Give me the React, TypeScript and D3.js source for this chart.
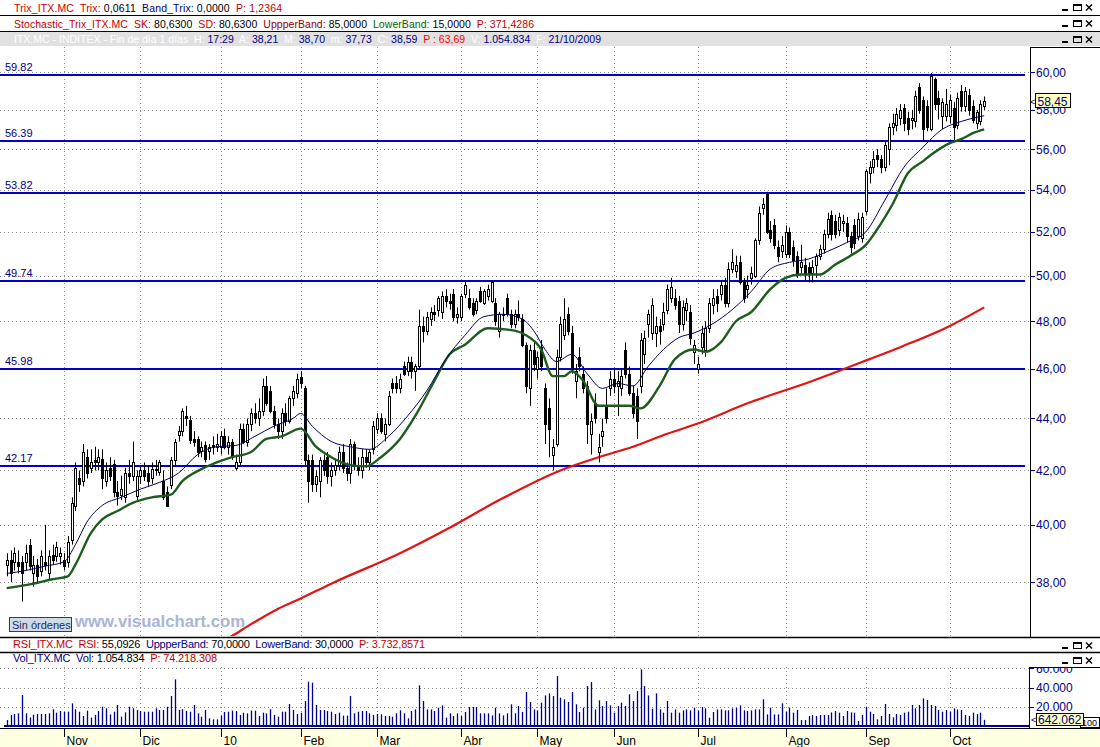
import React from 'react';
import * as d3 from 'd3';

// ---- calendar (trading sessions) ----
const firstSession = '2008-10-13';
const lastSession = '2009-10-14';
const holidays = ['2008-12-25', '2008-12-26', '2009-01-01', '2009-04-10', '2009-04-13', '2009-05-01'];
const monthLabels = ['Nov', 'Dic', '10', 'Feb', 'Mar', 'Abr', 'May', 'Jun', 'Jul', 'Ago', 'Sep', 'Oct'];

// ---- daily candles: [open, high, low, close] ----
const candles: [number, number, number, number][] = [
  // oct 08
  [38.6, 39.0, 38.2, 38.75], [38.75, 39.1, 38.0, 38.3], [38.7, 39.2, 38.4, 39.0], [38.7, 39.1, 38.3, 38.55],
  [38.7, 38.9, 37.35, 38.3], [38.7, 39.3, 38.4, 39.0], [39.3, 39.5, 38.4, 38.55], [38.3, 38.9, 37.85, 38.6],
  [38.6, 38.8, 38.0, 38.2], [38.4, 39.1, 38.2, 38.9], [38.7, 40.0, 38.4, 38.6], [38.3, 39.1, 38.1, 38.9],
  [38.95, 39.3, 38.6, 38.75], [38.9, 39.4, 38.7, 39.2], [38.9, 39.2, 38.6, 39.0],
  // nov
  [38.75, 39.0, 38.4, 38.55], [38.7, 39.6, 38.5, 39.4], [39.45, 41.0, 39.3, 40.8], [40.7, 42.3, 40.5, 42.1],
  [41.7, 42.0, 41.2, 41.5], [41.6, 43.0, 41.4, 42.7], [42.5, 42.8, 41.7, 41.9], [42.1, 42.8, 41.9, 42.3],
  [42.4, 42.9, 42.0, 42.3], [42.3, 42.8, 42.0, 42.5], [42.45, 42.8, 41.3, 41.7], [41.6, 42.3, 41.4, 42.0],
  [42.1, 42.5, 41.6, 41.8], [42.25, 42.4, 41.0, 41.2], [41.2, 41.6, 40.7, 41.05], [41.1, 41.8, 40.9, 41.3],
  [41.0, 42.1, 40.8, 41.9], [41.9, 42.4, 41.5, 41.8], [41.8, 43.1, 41.6, 42.3], [41.05, 42.0, 40.9, 41.8],
  // dic
  [41.8, 42.2, 41.5, 42.0], [42.0, 42.3, 41.6, 41.8], [41.9, 42.2, 41.4, 41.6], [41.7, 42.3, 41.5, 42.05],
  [42.05, 42.4, 41.8, 42.0], [41.95, 42.4, 41.8, 42.3], [41.6, 42.0, 40.9, 41.0], [41.2, 41.4, 40.65, 40.7],
  [41.45, 42.5, 41.3, 42.4], [42.4, 43.2, 42.2, 43.1], [43.35, 43.7, 43.1, 43.5], [43.5, 44.4, 43.3, 44.3],
  [44.1, 44.5, 43.7, 44.0], [43.95, 44.1, 43.0, 43.15], [43.2, 43.5, 42.9, 43.1], [43.2, 43.3, 42.5, 42.7],
  [42.75, 43.1, 42.5, 42.9], [42.95, 43.1, 42.3, 42.45], [42.75, 43.0, 42.4, 42.9], [42.95, 43.3, 42.6, 42.9],
  [42.9, 43.4, 42.7, 43.0],
  // ene 09
  [42.9, 43.5, 42.6, 43.3], [43.3, 43.6, 42.8, 42.9], [42.9, 43.3, 42.6, 43.1], [43.1, 43.2, 42.4, 42.5],
  [42.1, 42.6, 42.0, 42.3], [42.3, 43.8, 42.2, 43.6], [43.6, 43.8, 43.0, 43.1], [43.1, 44.0, 42.9, 43.8],
  [43.8, 44.4, 43.5, 44.2], [44.2, 44.6, 43.8, 44.0], [44.0, 44.8, 43.7, 44.3], [44.3, 45.6, 44.1, 45.3],
  [45.3, 45.7, 44.5, 44.6], [45.1, 45.3, 44.2, 44.3], [44.3, 44.5, 43.6, 43.8], [43.8, 44.0, 43.2, 43.5],
  [43.5, 44.4, 43.2, 44.2], [44.2, 44.6, 43.7, 43.9], [43.9, 44.9, 43.8, 44.8], [44.8, 45.3, 44.5, 45.1],
  [45.0, 45.8, 44.8, 45.6],
  // feb
  [45.65, 45.9, 45.2, 45.4], [45.2, 45.3, 42.2, 42.4], [42.4, 42.6, 40.8, 41.6], [42.4, 42.6, 41.2, 41.5],
  [41.5, 42.0, 41.2, 41.8], [41.6, 42.5, 41.0, 42.4], [42.4, 42.6, 41.8, 42.0], [42.5, 42.7, 41.5, 41.8],
  [41.8, 42.3, 41.4, 42.0], [42.0, 42.4, 41.8, 42.2], [42.2, 42.9, 42.0, 42.7], [42.7, 43.0, 41.9, 42.1],
  [42.1, 42.3, 41.6, 41.9], [41.9, 43.2, 41.5, 43.0], [43.0, 43.1, 42.0, 42.2], [42.2, 42.5, 41.8, 42.0],
  [42.0, 42.8, 41.7, 42.5], [42.5, 42.8, 42.1, 42.3], [42.3, 42.8, 42.0, 42.7], [42.8, 43.9, 42.6, 43.7],
  // mar
  [43.6, 44.2, 43.4, 44.0], [44.0, 44.2, 43.4, 43.5], [43.4, 44.0, 43.1, 43.8], [43.8, 45.1, 43.7, 44.9],
  [45.4, 45.6, 45.0, 45.2], [45.4, 45.7, 45.0, 45.2], [45.2, 45.8, 45.0, 45.6], [46.1, 46.3, 45.7, 45.8],
  [45.9, 46.5, 45.7, 46.3], [46.3, 46.5, 45.6, 45.9], [45.9, 46.2, 45.1, 46.1], [46.1, 48.5, 46.0, 47.8],
  [47.8, 48.2, 47.1, 47.6], [47.6, 48.4, 47.4, 48.2], [48.1, 48.6, 47.8, 48.4], [48.4, 48.7, 48.0, 48.3],
  [48.5, 49.1, 48.2, 49.0], [48.4, 49.3, 48.1, 49.1], [49.1, 49.4, 48.6, 48.9], [48.9, 49.2, 48.5, 48.8],
  [49.2, 49.4, 48.0, 48.2], [48.2, 48.6, 47.9, 48.3],
  // abr
  [48.2, 49.2, 48.0, 49.1], [49.2, 49.8, 49.0, 49.6], [49.0, 49.4, 48.5, 48.6], [48.8, 49.0, 48.2, 48.3],
  [48.5, 49.0, 48.3, 48.9], [49.3, 49.5, 48.8, 48.9], [48.8, 49.4, 48.7, 49.3], [49.1, 49.6, 48.9, 49.4],
  [48.9, 49.8, 48.8, 49.7], [48.8, 49.0, 47.8, 48.0], [47.6, 48.4, 47.3, 48.3], [48.3, 48.6, 48.0, 48.3],
  [49.0, 49.2, 48.2, 48.3], [48.3, 48.5, 47.7, 47.9], [47.9, 48.5, 47.7, 48.3], [48.3, 48.9, 48.0, 48.2],
  [48.1, 48.3, 46.9, 47.0], [47.0, 47.1, 45.0, 45.3], [45.2, 47.0, 44.5, 46.8], [46.8, 47.1, 45.9, 46.2],
  // may
  [46.0, 46.7, 45.6, 46.5], [46.9, 47.2, 45.9, 46.1], [45.2, 45.4, 43.0, 43.8], [44.4, 44.8, 42.5, 43.6],
  [42.6, 43.2, 42.0, 42.9], [43.0, 46.8, 42.9, 46.5], [46.5, 48.2, 46.3, 47.9], [47.4, 49.0, 47.2, 48.1],
  [48.3, 48.6, 47.4, 47.6], [47.5, 47.8, 45.8, 46.0], [45.5, 46.2, 44.8, 45.9], [46.5, 46.9, 45.9, 46.1],
  [45.8, 46.1, 45.0, 45.2], [45.3, 45.5, 43.0, 43.8], [43.4, 44.2, 42.6, 43.9], [44.6, 45.0, 43.8, 44.0],
  [42.7, 43.4, 42.3, 42.9], [43.3, 44.0, 42.9, 43.5], [44.5, 45.2, 43.8, 44.0], [45.2, 45.9, 44.9, 45.6],
  // jun
  [45.6, 46.0, 45.0, 45.3], [45.3, 45.9, 44.1, 45.5], [45.2, 46.0, 44.9, 45.7], [46.8, 47.1, 45.6, 45.8],
  [45.8, 46.1, 44.9, 45.0], [45.0, 45.3, 44.0, 44.2], [44.9, 45.2, 43.2, 43.9], [45.3, 47.5, 45.0, 47.2],
  [46.6, 47.6, 46.2, 47.3], [47.9, 48.5, 47.3, 48.3], [47.5, 49.0, 47.2, 48.7], [47.5, 48.2, 46.9, 47.8],
  [47.8, 48.1, 47.0, 47.6], [47.9, 48.8, 47.6, 48.4], [48.5, 49.6, 48.3, 49.4], [49.0, 49.9, 48.8, 49.5],
  [49.0, 49.4, 48.5, 48.7], [48.9, 49.1, 47.5, 47.9], [47.9, 48.9, 47.6, 48.6], [48.5, 49.0, 48.0, 48.8],
  [48.4, 48.7, 47.0, 47.3], [46.7, 47.2, 46.2, 47.0],
  // jul
  [46.0, 46.5, 45.8, 46.2], [46.9, 47.8, 46.6, 47.5], [46.8, 48.0, 46.5, 47.7], [47.7, 49.0, 47.5, 48.8],
  [48.7, 49.4, 48.3, 49.0], [49.1, 49.4, 48.4, 48.8], [49.2, 49.8, 48.9, 49.6], [49.6, 49.9, 48.6, 48.8],
  [48.8, 50.6, 48.6, 50.3], [50.3, 51.2, 50.1, 50.6], [50.2, 50.9, 49.9, 50.5], [50.6, 50.9, 49.6, 49.7],
  [49.7, 49.9, 48.8, 49.0], [49.4, 50.0, 49.0, 49.6], [49.9, 50.4, 49.6, 50.1], [50.0, 51.7, 49.9, 51.6],
  [51.6, 53.2, 51.4, 52.9], [53.1, 53.6, 52.8, 53.3], [53.8, 53.9, 51.9, 52.0], [52.1, 52.5, 51.5, 51.7],
  [52.3, 52.6, 51.2, 51.4], [51.3, 51.6, 50.6, 50.9], [51.1, 51.8, 50.8, 51.4],
  // ago
  [51.0, 52.3, 50.8, 52.0], [52.0, 52.2, 50.8, 51.0], [51.3, 51.6, 50.4, 50.7], [50.9, 51.1, 49.9, 50.1],
  [50.4, 51.4, 50.1, 50.6], [50.5, 50.8, 49.8, 50.1], [50.4, 50.6, 49.7, 50.1], [50.1, 50.7, 49.7, 50.4],
  [50.5, 51.0, 49.9, 50.9], [50.9, 51.4, 50.7, 51.2], [51.2, 52.1, 51.0, 51.9], [51.9, 52.9, 51.7, 52.6],
  [52.8, 53.0, 51.6, 51.9], [52.5, 52.8, 51.7, 51.9], [52.1, 52.9, 51.8, 52.7], [52.4, 52.8, 52.0, 52.5],
  [52.4, 52.7, 51.5, 51.8], [51.8, 52.0, 51.0, 51.3], [52.3, 52.6, 51.2, 51.5], [51.8, 52.9, 51.6, 52.6],
  [51.7, 52.9, 51.5, 52.7],
  // sep
  [53.0, 55.0, 52.8, 54.9], [54.8, 55.4, 54.3, 55.1], [55.1, 55.9, 54.8, 55.5], [55.7, 56.0, 55.1, 55.5],
  [55.5, 55.7, 54.8, 55.1], [55.1, 56.4, 54.9, 56.2], [56.0, 57.3, 55.2, 57.1], [57.1, 57.8, 56.7, 57.3],
  [57.2, 58.1, 56.9, 57.8], [57.6, 58.3, 57.2, 58.0], [58.1, 58.3, 56.9, 57.3], [57.6, 57.9, 56.7, 57.0],
  [57.5, 58.0, 57.0, 57.6], [57.4, 59.0, 57.1, 58.7], [59.2, 59.4, 57.8, 58.0], [58.5, 58.7, 56.4, 57.0],
  [58.2, 58.5, 56.9, 57.1], [57.0, 59.95, 56.9, 59.8], [59.6, 59.7, 58.0, 58.3], [58.6, 59.0, 57.5, 58.3],
  [57.7, 58.6, 57.0, 58.4], [57.7, 59.1, 57.4, 58.3],
  // oct 09
  [57.7, 58.8, 57.3, 58.5], [58.1, 58.4, 56.4, 57.1], [57.2, 58.9, 57.0, 58.6], [59.0, 59.3, 57.9, 58.2],
  [58.2, 59.2, 57.9, 59.0], [58.8, 59.1, 57.7, 58.0], [58.2, 58.5, 57.3, 57.5], [57.3, 58.0, 57.0, 57.9],
  [57.4, 58.5, 57.2, 58.3], [58.2, 58.7, 58.0, 58.45],
];

// ---- volume per session (axis units, thousands) ----
const volumes = [
  6.2, 11.5, 12.5, 13.2, 32.3, 13.2, 9.0, 11.8, 12.5, 12.5,
  12.5, 13.2, 17.4, 13.9, 15.6, 14.6, 14.9, 23.6, 17.4, 14.9,
  10.4, 16.0, 8.7, 11.5, 15.6, 20.1, 18.4, 12.1, 14.9, 21.9,
  9.7, 14.2, 20.1, 18.4, 16.7, 15.6, 14.9, 14.9, 14.9, 18.4,
  16.7, 16.7, 20.1, 31.2, 48.6, 16.7, 17.4, 15.6, 14.9, 21.9,
  13.2, 9.7, 16.7, 8.0, 6.9, 6.9, 10.8, 14.6, 14.9, 16.0,
  15.6, 11.5, 13.9, 13.2, 16.0, 16.0, 10.4, 13.9, 13.2, 17.4,
  11.5, 9.7, 14.9, 14.9, 22.9, 16.7, 12.5, 13.9, 26.0, 46.2,
  45.1, 21.9, 16.7, 16.7, 15.6, 14.9, 12.5, 13.9, 10.8, 10.8,
  31.2, 13.2, 14.9, 15.6, 15.6, 13.2, 11.5, 12.5,
  12.1, 10.4, 10.4, 9.7, 13.2, 16.3, 13.2, 8.0, 15.6, 17.3,
  42.3, 26.0, 17.3, 17.3, 15.6, 19.1, 21.5, 8.7, 13.2, 10.4,
  13.2, 10.4, 14.6, 19.8, 19.8, 19.8, 13.2, 13.2, 13.2, 11.1,
  19.1, 13.2, 11.1, 13.2, 22.6, 13.2, 20.8, 14.6, 35.4, 25.0,
  17.3, 16.3,
  24.3, 31.9, 34.0, 31.2, 52.0, 29.5, 27.8, 25.0, 35.4, 22.6,
  14.6, 19.1, 41.6, 45.8, 17.3, 26.7, 20.8, 26.0, 21.5, 13.9,
  20.8, 24.3, 20.8, 33.0, 26.0, 36.4, 59.0, 41.6, 31.9, 18.0,
  34.0, 17.3, 13.9, 26.0, 13.9, 17.3, 13.9, 16.3, 17.3, 16.3,
  19.1, 16.3, 19.8, 18.4, 8.7, 14.6, 17.3, 17.3, 16.3, 16.3,
  18.4, 19.1, 21.5, 16.3, 15.6, 16.3, 17.3, 17.3, 27.8, 12.1,
  19.1, 12.1, 12.1,
  23.6, 14.9, 19.1, 13.9, 16.7, 6.2, 6.2, 10.4, 11.5, 10.4,
  11.5, 11.5, 11.5, 14.2, 15.6, 13.9, 10.4, 15.6, 14.2, 13.9,
  5.2, 11.5, 20.1, 14.9, 12.5, 6.9, 10.4, 22.9, 12.5, 9.0,
  12.5, 11.5, 13.9, 14.9, 21.9, 18.4, 21.9, 28.8, 27.1, 21.9,
  20.8,
  16.7, 14.9, 16.7, 14.9, 18.4, 17.3, 16.7, 11.5, 10.4, 13.9, 12.5, 13.9, 6.4,
];

// ---- averages: [session index, value] ----
const fastMa: [number, number][] = [
  [0, 38.3], [5, 38.4], [10, 38.55], [15, 38.7], [18, 39.3], [21, 40.1], [25, 40.7], [30, 41.0], [35, 41.3],
  [40, 41.55], [45, 41.9], [50, 42.6], [55, 42.9], [60, 42.95], [65, 43.3], [70, 43.7], [75, 44.0], [77, 44.2],
  [80, 43.7], [85, 43.1], [90, 42.9], [95, 42.8], [100, 43.3], [105, 44.1], [110, 45.1], [115, 46.4], [120, 47.4],
  [125, 48.2], [130, 48.3], [135, 48.1], [138, 47.6], [141, 46.8], [144, 46.3], [148, 46.6], [152, 45.8],
  [156, 45.2], [160, 45.4], [164, 45.3], [168, 46.1], [172, 46.8], [176, 47.3], [180, 47.5], [185, 47.9],
  [190, 48.5], [195, 49.3], [200, 50.3], [205, 50.6], [210, 50.75], [215, 51.1], [220, 51.5], [225, 52.0],
  [230, 53.5], [235, 55.1], [240, 56.1], [245, 57.0], [250, 57.4], [256, 57.7],
];
const slowMa: [number, number][] = [
  [0, 37.8], [7, 37.95], [12, 38.1], [16, 38.2], [18, 38.6], [22, 39.7], [25, 40.2], [29, 40.5], [33, 40.8],
  [38, 41.0], [43, 41.1], [46, 41.6], [51, 42.05], [55, 42.3], [59, 42.5], [64, 42.7], [68, 43.2], [72, 43.3],
  [77, 43.6], [81, 42.9], [85, 42.5], [90, 42.2], [94, 42.15], [98, 42.5], [103, 43.2], [107, 44.1], [112, 45.5],
  [116, 46.6], [120, 47.0], [126, 47.7], [133, 47.6], [136, 47.4], [140, 46.8], [143, 45.7], [146, 45.7],
  [148, 45.9], [151, 45.5], [155, 44.5], [160, 44.5], [163, 44.5], [166, 44.4], [171, 45.3], [175, 46.4],
  [180, 46.8], [183, 46.7], [187, 47.1], [191, 48.0], [195, 48.4], [200, 49.4], [204, 49.9], [208, 50.05],
  [213, 50.05], [217, 50.5], [221, 50.9], [225, 51.4], [229, 52.4], [232, 53.3], [236, 54.8], [240, 55.4],
  [242, 55.7], [247, 56.3], [250, 56.5], [253, 56.8], [256, 57.0],
];
const longMa: [number, number][] = [
  [55, 36.0], [58, 36.15], [64, 36.6], [71, 37.1], [77, 37.45], [85, 37.95], [103, 39.0], [116, 39.9],
  [129, 40.9], [145, 42.0], [155, 42.5], [164, 42.9], [173, 43.4], [181, 43.8], [194, 44.6], [211, 45.5],
  [226, 46.4], [234, 46.9], [247, 47.8], [256, 48.6],
];

const levels = [59.82, 56.39, 53.82, 49.74, 45.98, 42.17];
const priceTicks = [38, 40, 42, 44, 46, 48, 50, 52, 54, 56, 58, 60];
const volumeTicks = [20, 40, 60];
const lastPrice = 58.45;
const lastVolume = 642062;

const es = d3.formatLocale({ decimal: ',', thousands: '.', grouping: [3], currency: ['', ''] });
const fmtPrice = es.format(',.2f');
const fmtInt = es.format(',');

const RED = '#c40000';
const NAVY = '#000080';
const FONT = '"Liberation Sans", Arial, sans-serif';

type Seg = [string, string];
const HeaderText = ({ x, y, len, segs, size = 10.5 }: { x: number; y: number; len: number; segs: Seg[]; size?: number }) => (
  <text x={x} y={y} fontSize={size} textLength={len} lengthAdjust="spacing" style={{ whiteSpace: 'pre' }}>
    {segs.map(([t, c], i) => (
      <tspan key={i} fill={c}>{t}</tspan>
    ))}
  </text>
);

const WinButtons = ({ y }: { y: number }) => (
  <g transform={`translate(1060,${y})`}>
    <rect x={2} y={5} width={6} height={2} fill="#000" />
    <rect x={13.5} y={0.5} width={8} height={6} fill="none" stroke="#000" />
    <rect x={13} y={0} width={9} height={2} fill="#000" />
    <path d="M26,0.5 L32,6.5 M32,0.5 L26,6.5" stroke="#000" strokeWidth={1.4} />
  </g>
);

export default function App() {
  const sessions = d3
    .utcDay.range(new Date(firstSession), d3.utcDay.offset(new Date(lastSession), 1))
    .filter((d) => {
      const wd = d.getUTCDay();
      return wd > 0 && wd < 6 && !holidays.includes(d3.utcFormat('%Y-%m-%d')(d));
    });
  const monthStarts = sessions
    .map((_, i) => i)
    .filter((i) => i > 0 && sessions[i].getUTCMonth() !== sessions[i - 1].getUTCMonth());

  const W = 1100;
  const H = 747;
  const plotRight = 1030;
  const mainTop = 47;
  const mainBottom = 636;
  const volTop = 667;
  const volBottom = 728;

  const x = d3.scaleLinear().domain([0, sessions.length - 1]).range([6.7, 984.2]);
  const y = d3.scaleLog().domain([38, 60]).range([582.2, 72]);
  const yv = d3.scaleLinear().domain([0, 60]).range([726, 668.4]);
  const px = (i: number) => Math.round(x(i)) + 0.5;

  const maLine = d3
    .line<[number, number]>()
    .x((d) => x(d[0]))
    .y((d) => y(d[1]))
    .curve(d3.curveMonotoneX);

  return (
    <>
      <style>{'body{margin:0}'}</style>
      <svg width={W} height={H} style={{ display: 'block', fontFamily: FONT }}>
        <defs>
          <clipPath id="mainClip">
            <rect x={0} y={mainTop} width={plotRight} height={mainBottom - mainTop} />
          </clipPath>
          <clipPath id="volAxisClip">
            <rect x={plotRight} y={volTop} width={W - plotRight} height={volBottom - volTop} />
          </clipPath>
        </defs>
        <rect x={0} y={0} width={W} height={H} fill="#fff" />

        {/* header rows */}
        <HeaderText
          x={14}
          y={11.5}
          len={268}
          segs={[
            ['Trix_ITX.MC  Trix: ', RED],
            ['0,0611  ', '#000'],
            ['Band_Trix: ', NAVY],
            ['0,0000  ', '#000'],
            ['P: 1,2364', RED],
          ]}
        />
        <line x1={0} x2={W} y1={15.5} y2={15.5} stroke="#000" />
        <HeaderText
          x={14}
          y={27.5}
          len={520}
          segs={[
            ['Stochastic_Trix_ITX.MC  SK: ', RED],
            ['80,6300  ', '#000'],
            ['SD: ', RED],
            ['80,6300  ', '#000'],
            ['UppperBand: ', '#8b0000'],
            ['85,0000  ', '#000'],
            ['LowerBand: ', '#006400'],
            ['15,0000  ', '#000'],
            ['P: 371,4286', RED],
          ]}
        />
        <line x1={0} x2={W} y1={31.5} y2={31.5} stroke="#000" />
        <rect x={0} y={32} width={W} height={14} fill="#e1e1e1" />
        <HeaderText
          x={14}
          y={43}
          len={587}
          segs={[
            ['ITX.MC - INDITEX - Fin de día 1 días  H: ', '#fff'],
            ['17:29  ', NAVY],
            ['A: ', '#fff'],
            ['38,21  ', NAVY],
            ['M: ', '#fff'],
            ['38,70  ', NAVY],
            ['m: ', '#fff'],
            ['37,73  ', NAVY],
            ['C: ', '#fff'],
            ['38,59  ', NAVY],
            ['P : 63,69  ', '#ff0000'],
            ['V: ', '#fff'],
            ['1.054.834  ', NAVY],
            ['F: ', '#fff'],
            ['21/10/2009', NAVY],
          ]}
        />
        <WinButtons y={4} />
        <WinButtons y={20} />
        <WinButtons y={36} />

        {/* main panel grid */}
        {priceTicks.map((t) => (
          <line
            key={'hg' + t}
            x1={0}
            x2={plotRight}
            y1={Math.round(y(t)) + 0.5}
            y2={Math.round(y(t)) + 0.5}
            stroke="#8c8c8c"
            strokeDasharray="1 3"
          />
        ))}
        {monthStarts.map((i) => (
          <g key={'vg' + i}>
            <line x1={px(i)} x2={px(i)} y1={mainTop} y2={mainBottom} stroke="#8c8c8c" strokeDasharray="1 3" />
            <line x1={px(i)} x2={px(i)} y1={volTop} y2={volBottom - 2} stroke="#8c8c8c" strokeDasharray="1 3" />
          </g>
        ))}

        {/* horizontal levels */}
        {levels.map((lv) => (
          <g key={'lv' + lv}>
            <line x1={0} x2={1025} y1={Math.round(y(lv))} y2={Math.round(y(lv))} stroke="#0000c8" strokeWidth={2} />
            <text x={5} y={Math.round(y(lv)) - 4} fontSize={11} fill={NAVY}>
              {lv.toFixed(2)}
            </text>
          </g>
        ))}

        <g clipPath="url(#mainClip)">
          {/* long average */}
          <path d={maLine(longMa) || ''} fill="none" stroke="#e01414" strokeWidth={2.2} />
          {/* candles */}
          {candles.map(([o, h, l, c], i) => {
            const cx = px(i);
            const up = c >= o;
            const top = Math.round(y(Math.max(o, c))) + 0.5;
            const bot = Math.round(y(Math.min(o, c))) + 0.5;
            return (
              <g key={'c' + i}>
                <line x1={cx} x2={cx} y1={y(h)} y2={y(l)} stroke="#000" />
                <rect
                  x={cx - 1}
                  y={top}
                  width={2}
                  height={Math.max(1, bot - top)}
                  fill={up ? '#fff' : '#000'}
                  stroke="#000"
                />
              </g>
            );
          })}
          <path d={maLine(slowMa) || ''} fill="none" stroke="#1d5c1d" strokeWidth={2.4} />
          <path d={maLine(fastMa) || ''} fill="none" stroke="#000060" strokeWidth={1} />
        </g>

        {/* watermark */}
        <rect x={9.5} y={617.5} width={62} height={14} fill="#cfdbe8" stroke="#3c3c3c" />
        <text x={12} y={628.5} fontSize={11} fill="#1c2c58">
          Sin órdenes
        </text>
        <text x={75} y={627} fontSize={16} fontWeight="bold" fill="#aab4d6" textLength={170} lengthAdjust="spacingAndGlyphs">
          www.visualchart.com
        </text>

        {/* main price axis */}
        <line x1={plotRight + 0.5} x2={plotRight + 0.5} y1={mainTop} y2={637} stroke="#000" />
        <line x1={plotRight} x2={W} y1={mainTop + 0.5} y2={mainTop + 0.5} stroke="#000" />
        {priceTicks.map((t) => (
          <g key={'pt' + t}>
            <line x1={plotRight} x2={plotRight + 5} y1={Math.round(y(t)) + 0.5} y2={Math.round(y(t)) + 0.5} stroke={NAVY} />
            <text x={plotRight + 6} y={y(t) + 4.5} fontSize={12} fill={NAVY}>
              {fmtPrice(t)}
            </text>
          </g>
        ))}
        <text x={1030} y={y(lastPrice) + 4} fontSize={9} fill="#000">
          {'<'}
        </text>
        <rect x={1035.5} y={Math.round(y(lastPrice)) - 7.5} width={35} height={14} fill="#ffffc0" stroke="#000" />
        <text x={1037.5} y={y(lastPrice) + 4.5} fontSize={12} fill={NAVY}>
          {fmtPrice(lastPrice)}
        </text>

        {/* RSI and volume header rows */}
        <line x1={0} x2={W} y1={637.5} y2={637.5} stroke="#000" strokeWidth={1.3} />
        <HeaderText
          x={13}
          y={647.5}
          len={412}
          size={11}
          segs={[
            ['RSI_ITX.MC  RSI: ', RED],
            ['55,0926  ', '#000'],
            ['UppperBand: ', NAVY],
            ['70,0000  ', '#000'],
            ['LowerBand: ', NAVY],
            ['30,0000  ', '#000'],
            ['P: 3.732,8571', RED],
          ]}
        />
        <WinButtons y={642} />
        <line x1={0} x2={W} y1={652.5} y2={652.5} stroke="#000" strokeWidth={1.3} />
        <HeaderText
          x={13}
          y={662}
          len={204}
          size={11}
          segs={[
            ['Vol_ITX.MC  Vol: ', NAVY],
            ['1.054.834  ', '#000'],
            ['P: 74.218.308', RED],
          ]}
        />
        <WinButtons y={657} />

        {/* volume panel */}
        {volumeTicks.map((t) => (
          <line
            key={'vh' + t}
            x1={0}
            x2={plotRight}
            y1={Math.round(yv(t)) + 0.5}
            y2={Math.round(yv(t)) + 0.5}
            stroke="#8c8c8c"
            strokeDasharray="1 3"
          />
        ))}
        {volumes.map((v, i) => (
          <line key={'v' + i} x1={px(i)} x2={px(i)} y1={yv(0)} y2={yv(v)} stroke="#00008c" strokeWidth={1.3} />
        ))}
        <line x1={4} x2={plotRight} y1={726} y2={726} stroke="#00008c" strokeWidth={2} />
        <line x1={plotRight - 0.5} x2={plotRight - 0.5} y1={volTop} y2={volBottom} stroke="#000" />
        <line x1={plotRight - 1} x2={W} y1={volTop + 0.5} y2={volTop + 0.5} stroke="#000" />
        <g clipPath="url(#volAxisClip)">
          {volumeTicks.map((t) => (
            <g key={'vt' + t}>
              <line x1={plotRight} x2={plotRight + 4} y1={Math.round(yv(t)) + 0.5} y2={Math.round(yv(t)) + 0.5} stroke={NAVY} />
              <text x={plotRight + 6} y={yv(t) + 4.5} fontSize={12} fill={NAVY}>
                {fmtInt(t * 1000)}
              </text>
            </g>
          ))}
        </g>
        <rect x={1080.5} y={717.5} width={19} height={10} fill="#fff" stroke="#000" />
        <text x={1082} y={726} fontSize={9} fill="#000">
          100
        </text>
        <text x={1031} y={723} fontSize={9} fill="#000">
          {'<'}
        </text>
        <rect x={1036.5} y={713.5} width={47} height={12} fill="#ffffc0" stroke="#000" />
        <text x={1038} y={724} fontSize={12} fill={NAVY}>
          {fmtInt(lastVolume)}
        </text>

        {/* time axis band */}
        <rect x={0} y={729} width={W} height={H - 729} fill="#ffffe1" />
        <line x1={0} x2={W} y1={728.5} y2={728.5} stroke="#000" />
        {monthStarts.map((i, k) => (
          <g key={'m' + i}>
            <line x1={px(i)} x2={px(i)} y1={729} y2={737} stroke="#000" />
            <text x={px(i) + 2} y={745} fontSize={12} fill="#000">
              {monthLabels[k]}
            </text>
          </g>
        ))}
      </svg>
    </>
  );
}
